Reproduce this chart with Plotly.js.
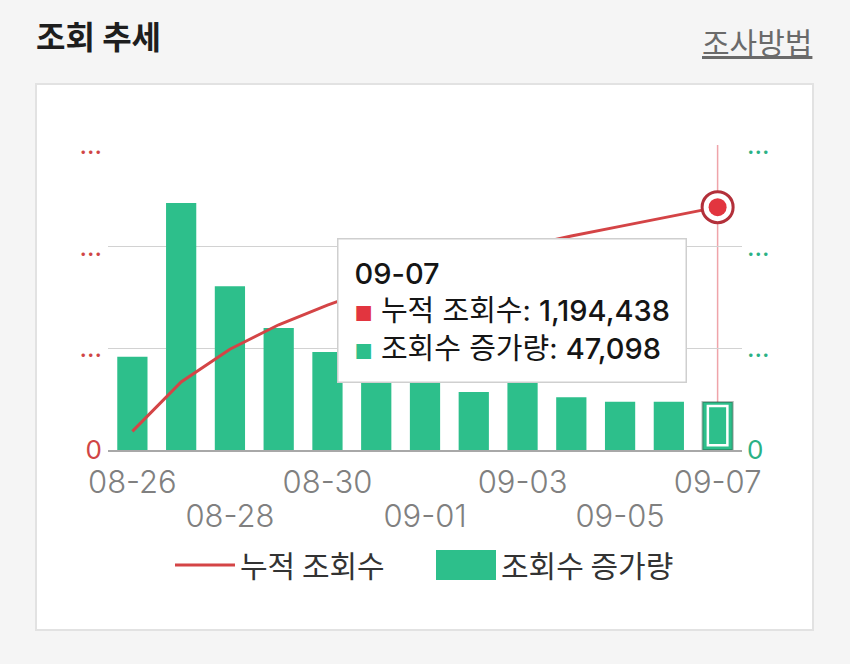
<!DOCTYPE html>
<html>
<head>
<meta charset="utf-8">
<script src="https://cdn.plot.ly/plotly-3.0.1.min.js"></script>
<style>
  html, body { margin: 0; padding: 0; background: #f5f5f5; }
  #chart { width: 850px; height: 664px; }
</style>
</head>
<body>
<div id="chart"></div>
<script>
// ---- data ----
const dates = ['08-26','08-27','08-28','08-29','08-30','08-31','09-01','09-02','09-03','09-04','09-05','09-06','09-07'];
const dailyIncrease = [91840, 243000, 161000, 120000, 96500, 86000, 77000, 57000, 68000, 52000, 47500, 47500, 47098];
const cumulativeViews = [91840, 334840, 495840, 615840, 712340, 798340, 875340, 932340, 1000340, 1052340, 1099840, 1147340, 1194438];
const seriesNames = ['누적 조회수', '조회수 증가량'];
const leftTickVals = [0, 500000, 1000000, 1500000];
const leftTickText = ['0', '...', '...', '...'];
const rightTickVals = [0, 100000, 200000, 300000];
const rightTickText = ['0', '...', '...', '...'];
const xTicksRow1 = ['08-26', '08-30', '09-03', '09-07'];
const xTicksRow2 = ['08-28', '09-01', '09-05'];
const titleText = '조회 추세';
const linkText = '조사방법';

// ---- styling ----
const FONT = "Inter, 'Noto Sans CJK KR', sans-serif";
const KFONT = "'Noto Sans CJK KR', Inter, sans-serif";
const RED = '#d44446';
const DOT = '#e2353f';
const GREEN = '#2dbf8b';
const last = dates.length - 1;
const fmt = v => v.toLocaleString('en-US');

// plot-area geometry in px (used only to place decorative paper shapes)
const PL = 108, PW = 634, PB = 450, PH = 305;
const px = v => (v - PL) / PW;
const py = v => (PB - v) / PH;

const barLineWidths = dates.map((d, i) => i === last ? 2 : 0);

const traces = [
  {
    type: 'bar', x: dates, y: dailyIncrease, xaxis: 'x', yaxis: 'y',
    name: seriesNames[1], legendrank: 2,
    marker: { color: GREEN, line: { color: 'rgba(40,60,50,0.35)', width: barLineWidths } },
    hoverinfo: 'skip'
  },
  {
    type: 'scatter', mode: 'lines', x: dates, y: cumulativeViews, xaxis: 'x', yaxis: 'y2',
    name: seriesNames[0], legendrank: 1,
    line: { color: RED, width: 3 }, hoverinfo: 'skip'
  },
  {
    type: 'scatter', mode: 'markers', x: [dates[last]], y: [cumulativeViews[last]], xaxis: 'x', yaxis: 'y2',
    showlegend: false, hoverinfo: 'skip',
    marker: { size: 31, color: '#ffffff', line: { color: '#b3303a', width: 3 } }
  },
  {
    type: 'scatter', mode: 'markers', x: [dates[last]], y: [cumulativeViews[last]], xaxis: 'x', yaxis: 'y2',
    showlegend: false, hoverinfo: 'skip',
    marker: { size: 18, color: DOT, line: { width: 0 } }
  },
  {
    type: 'scatter', mode: 'markers', x: dates, y: dates.map(() => null), xaxis: 'x2', yaxis: 'y',
    showlegend: false, hoverinfo: 'skip'
  }
];

const tipText =
  '<span style="font-weight:500">' + dates[last] + '</span><br>' +
  '<span style="color:' + DOT + ';font-size:20px">■</span> ' + seriesNames[0] + ': <span style="font-weight:500">' + fmt(cumulativeViews[last]) + '</span><br>' +
  '<span style="color:' + GREEN + ';font-size:20px">■</span> ' + seriesNames[1] + ': <span style="font-weight:500">' + fmt(dailyIncrease[last]) + '</span>';

const layout = {
  width: 850, height: 664,
  paper_bgcolor: '#f5f5f5',
  plot_bgcolor: 'rgba(0,0,0,0)',
  margin: { l: 108, r: 108, t: 145, b: 214, autoexpand: false },
  font: { family: FONT, color: '#333' },
  showlegend: true,
  hovermode: false,
  bargap: 0.38,
  title: {
    text: '<b>' + titleText + '</b>',
    font: { family: KFONT, size: 32, color: '#1e1e1e' },
    x: 36 / 850, xanchor: 'left', xref: 'container',
    y: 1 - 38 / 664, yanchor: 'middle', yref: 'container'
  },
  xaxis: {
    type: 'category', categoryarray: dates, range: [-0.5, last + 0.5],
    tickmode: 'array', tickvals: xTicksRow1, ticktext: xTicksRow1,
    ticks: '', showgrid: false, zeroline: false,
    showline: true, linecolor: '#a8a8a8', linewidth: 2,
    tickfont: { family: FONT, size: 31, color: '#808080', weight: 300 },
    ticklabelstandoff: 4, automargin: false
  },
  xaxis2: {
    type: 'category', categoryarray: dates, range: [-0.5, last + 0.5],
    overlaying: 'x', anchor: 'y', side: 'bottom',
    tickmode: 'array', tickvals: xTicksRow2, ticktext: xTicksRow2,
    ticks: '', showgrid: false, zeroline: false, showline: false,
    tickfont: { family: FONT, size: 31, color: '#808080', weight: 300 },
    ticklabelstandoff: 45, automargin: false
  },
  yaxis: {
    side: 'right', range: [0, 300000],
    tickmode: 'array', tickvals: rightTickVals, ticktext: rightTickText,
    ticks: '', showgrid: true, gridcolor: '#d2d2d2', gridwidth: 1.5,
    zeroline: false, showline: false,
    tickfont: { family: FONT, size: 26, color: '#2ab185' },
    ticklabelstandoff: 4, automargin: false
  },
  yaxis2: {
    side: 'left', overlaying: 'y', range: [0, 1500000],
    tickmode: 'array', tickvals: leftTickVals, ticktext: leftTickText,
    ticks: '', showgrid: false, zeroline: false, showline: false,
    tickfont: { family: FONT, size: 26, color: '#d04545' },
    ticklabelstandoff: 5, automargin: false
  },
  legend: {
    orientation: 'h', x: 0.5 + 6 / PW, xanchor: 'center', y: py(565), yanchor: 'middle',
    font: { family: KFONT, size: 30, color: '#333' },
    itemwidth: 60, entrywidth: 186, entrywidthmode: 'pixels',
    bgcolor: 'rgba(0,0,0,0)', traceorder: 'normal'
  },
  shapes: [
    {
      type: 'rect', xref: 'paper', yref: 'paper', layer: 'below',
      x0: px(36), x1: px(813), y0: py(630), y1: py(84),
      fillcolor: '#ffffff', line: { color: '#e2e2e2', width: 2 }
    },
    {
      type: 'line', xref: 'x', yref: 'paper', layer: 'below',
      x0: last, x1: last, y0: 0, y1: 1,
      line: { color: 'rgba(226,90,100,0.55)', width: 1.5 }
    },
    {
      type: 'rect', xref: 'x', yref: 'y', layer: 'above',
      x0: last - 0.2, x1: last + 0.2,
      y0: dailyIncrease[last] * 0.1, y1: dailyIncrease[last] * 0.92,
      fillcolor: 'rgba(0,0,0,0)', line: { color: '#ffffff', width: 2.5 }
    },
    {
      // enlarged legend swatch for the bar series (sits behind the legend's own swatch)
      type: 'rect', xref: 'paper', yref: 'paper', layer: 'above',
      x0: px(436), x1: px(496), y0: py(580), y1: py(550),
      fillcolor: GREEN, line: { width: 0 }
    }
  ],
  annotations: [
    {
      xref: 'paper', yref: 'paper', x: px(814), y: py(41),
      xanchor: 'right', yanchor: 'middle', showarrow: false,
      text: '<u>' + linkText + '</u>',
      font: { family: KFONT, size: 30, color: '#6a6a6a' }
    },
    {
      xref: 'paper', yref: 'paper', x: px(337), y: py(238),
      xanchor: 'left', yanchor: 'top', showarrow: false, align: 'left',
      text: tipText,
      font: { family: FONT, size: 29, color: '#151515' },
      bgcolor: '#ffffff', bordercolor: '#cfcfcf', borderwidth: 1.5, borderpad: 16
    }
  ]
};

Plotly.newPlot('chart', traces, layout, { displayModeBar: false, staticPlot: true });
</script>
</body>
</html>
